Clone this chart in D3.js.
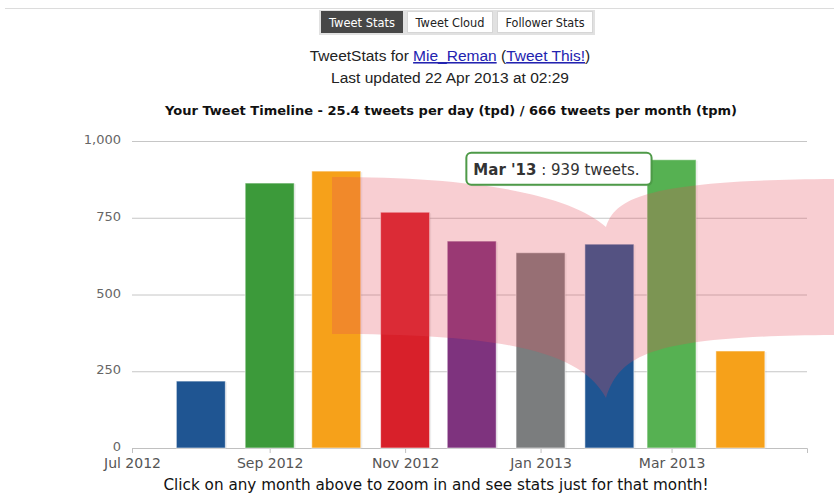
<!DOCTYPE html>
<html><head><meta charset="utf-8">
<script src="https://cdn.jsdelivr.net/npm/d3@7"></script>
<style>
html,body{margin:0;padding:0;background:#fff;}
svg{display:block;font-family:"DejaVu Sans",Verdana,sans-serif;}
</style></head><body>
<svg id="chart" width="834" height="496"></svg>
<script>
// Monthly tweet totals for the account
const months = ["2012-08","2012-09","2012-10","2012-11","2012-12","2013-01","2013-02","2013-03","2013-04"];
const tweets = [218, 863, 902, 768, 674, 636, 664, 939, 316];
const yTicks = [0, 250, 500, 750, 1000];
const xTickLabels = ["Jul 2012","Sep 2012","Nov 2012","Jan 2013","Mar 2013"];
const tabLabels = ["Tweet Stats","Tweet Cloud","Follower Stats"];
const hoverIndex = 7;   // month under the cursor (Mar '13)

const palette = ["#1f5592","#3c9a3a","#f6a11a","#d8202a","#7e337e","#7b7d7e","#1f5592","#56b152","#f6a11a"];

const svg = d3.select("#chart");
const W = 834, H = 496;
const plot = {left:132, right:807, top:141, bottom:448};

const parseMonth = d3.utcParse("%Y-%m");
const parseLabel = d3.utcParse("%b %Y");
const x = d3.scaleUtc()
  .domain([Date.UTC(2012,6,1), Date.UTC(2013,4,1)])
  .range([plot.left, plot.right]);
const y = d3.scaleLinear().domain([0,1000]).range([plot.bottom, plot.top]);

// ---- page header ----
svg.append("line").attr("x1",5).attr("x2",W).attr("y1",8.5).attr("y2",8.5)
  .attr("stroke","#dcdcdc");

const tabBox = [[321,403],[407,493],[497,593]];
const tabs = svg.append("g");
tabs.append("rect").attr("x",319).attr("y",10).attr("width",276).attr("height",25).attr("fill","#e1e1e1");
tabLabels.forEach((t,i)=>{
  const [a,b] = tabBox[i];
  tabs.append("rect").attr("x",a+0.5).attr("y",11.5).attr("width",b-a-1).attr("height",21)
    .attr("fill", i===0 ? "#474747" : "#fff")
    .attr("stroke", i===0 ? "#474747" : "#d6d6d6");
  tabs.append("text").attr("x",(a+b)/2).attr("y",26.5).attr("text-anchor","middle")
    .attr("font-size",12.5).attr("fill", i===0 ? "#fff" : "#222")
    .attr("textLength",[66,69,79][i]).attr("lengthAdjust","spacingAndGlyphs")
    .text(t);
});

const h1 = svg.append("text").attr("x",450).attr("y",61).attr("text-anchor","middle")
  .attr("font-size",15.5).attr("fill","#222")
  .attr("font-family","Liberation Sans, Arial, sans-serif");
h1.append("tspan").text("TweetStats for ");
h1.append("tspan").attr("fill","#2323b0").attr("text-decoration","underline").text("Mie_Reman");
h1.append("tspan").text(" (");
h1.append("tspan").attr("fill","#2323b0").attr("text-decoration","underline").text("Tweet This!");
h1.append("tspan").text(")");

svg.append("text").attr("x",450).attr("y",83).attr("text-anchor","middle")
  .attr("font-size",15.5).attr("fill","#222")
  .attr("font-family","Liberation Sans, Arial, sans-serif")
  .text("Last updated 22 Apr 2013 at 02:29");

const avgDay = 25.4, avgMonth = 666;
svg.append("text").attr("x",451).attr("y",115).attr("text-anchor","middle")
  .attr("font-size",12.5).attr("font-weight","bold").attr("fill","#111")
  .attr("textLength",572).attr("lengthAdjust","spacingAndGlyphs")
  .text(`Your Tweet Timeline - ${avgDay} tweets per day (tpd) / ${avgMonth} tweets per month (tpm)`);

// ---- axes and grid ----
svg.append("g").attr("transform",`translate(${plot.left},0)`)
  .call(d3.axisLeft(y).tickValues(yTicks).tickFormat(d3.format(","))
    .tickSizeInner(-(plot.right-plot.left)).tickSizeOuter(0).tickPadding(11))
  .call(g=>g.select(".domain").remove())
  .call(g=>g.selectAll(".tick line").attr("stroke","#c6c6c6"))
  .call(g=>g.selectAll(".tick text").attr("fill","#666").attr("font-size",13)
    .attr("dy","0.2em").attr("font-family","DejaVu Sans, sans-serif"));

svg.append("g").attr("transform",`translate(0,${plot.bottom})`)
  .call(d3.axisBottom(x).tickValues(xTickLabels.map(parseLabel))
    .tickFormat(d3.utcFormat("%b %Y")).tickSizeInner(5).tickSizeOuter(5).tickPadding(5))
  .call(g=>g.select(".domain").attr("stroke","#c0c0c0"))
  .call(g=>g.selectAll(".tick line").attr("stroke","#c0c0c0"))
  .call(g=>g.selectAll(".tick text").attr("fill","#555").attr("font-size",14)
    .attr("font-family","DejaVu Sans, sans-serif"));

// ---- bars ----
const bw = 49;
const data = months.map((m,i)=>({date:parseMonth(m), value:tweets[i], i}));
const bars = svg.append("g");
bars.selectAll("rect.shadow").data(data).join("rect").attr("class","shadow")
  .attr("x",d=>x(d.date)-bw/2+1.5).attr("y",d=>y(d.value)+1)
  .attr("width",bw).attr("height",d=>plot.bottom-y(d.value)-1)
  .attr("fill","#000").attr("opacity",0.07);
bars.selectAll("rect.bar").data(data).join("rect").attr("class","bar")
  .attr("x",d=>x(d.date)-bw/2).attr("y",d=>y(d.value))
  .attr("width",bw).attr("height",d=>plot.bottom-y(d.value))
  .attr("fill",d=>palette[d.i])
  .attr("stroke","rgba(255,255,255,0.55)").attr("stroke-width",1);

// ---- translucent ribbon over the plot ----
svg.append("path")
  .attr("d","M332,177 C480,177 570,195 606,227 C615,200 640,180 834,179 L834,335 " +
            "C650,336 620,355 606,398 C580,350 500,334 332,334 Z")
  .attr("fill","rgb(228,75,90)").attr("opacity",0.27);

// ---- tooltip for the hovered month ----
const hd = data[hoverIndex];
const tip = svg.append("g");
const tipRight = x(hd.date) - 20, tipTop = y(hd.value) - 7;
const tipText = tip.append("text").attr("y",tipTop+22).attr("font-size",15).attr("fill","#333");
tipText.append("tspan").attr("font-weight","bold").text(d3.utcFormat("%b '%y")(hd.date));
tipText.append("tspan").text(` : ${hd.value} tweets.`);
const tw = tipText.node().getComputedTextLength();
const tipW = tw + 19, tipLeft = tipRight - tipW;
tipText.attr("x", tipLeft + 7);
tip.insert("rect","text").attr("x",tipLeft+1).attr("y",tipTop+1.5).attr("width",tipW).attr("height",32)
  .attr("rx",5).attr("fill","#000").attr("opacity",0.08);
tip.insert("rect","text").attr("x",tipLeft).attr("y",tipTop).attr("width",tipW).attr("height",32)
  .attr("rx",5).attr("fill","#fff").attr("stroke","#4e9a48").attr("stroke-width",2);

// ---- footer ----
svg.append("text").attr("x",436).attr("y",490).attr("text-anchor","middle")
  .attr("font-size",15).attr("fill","#111")
  .attr("textLength",545).attr("lengthAdjust","spacingAndGlyphs")
  .text("Click on any month above to zoom in and see stats just for that month!");
</script>
</body></html>
